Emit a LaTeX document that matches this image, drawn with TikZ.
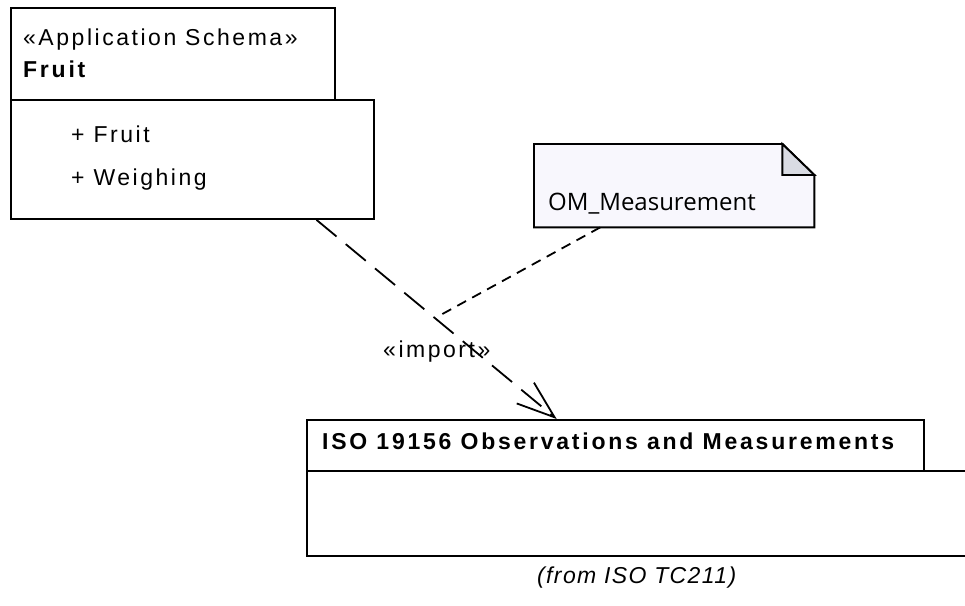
\documentclass[tikz,border=0pt]{standalone}
\usepackage{fontspec}
\setmainfont{Liberation Sans}
\newfontfamily\umlfont[LetterSpace=11]{Liberation Sans}
\newfontfamily\umlboldfont[LetterSpace=12]{Liberation Sans Bold}
\newfontfamily\fromfont[LetterSpace=6]{Liberation Sans}
\newfontfamily\notefont{Open Sans}
\usetikzlibrary{arrows.meta,calc}
\definecolor{umlline}{HTML}{000000}
\definecolor{notefill}{HTML}{F8F7FD}
\definecolor{foldfill}{HTML}{D9DBE3}
\tikzset{
  pkgbox/.style={draw=umlline, line width=1.9pt, fill=white, anchor=north west, inner sep=0pt},
  umltext/.style={anchor=base west, inner sep=0pt, font=\umlfont\fontsize{23}{27}\selectfont},
  umlbold/.style={umltext, font=\umlboldfont\fontsize{23}{27}\selectfont},
  notetext/.style={anchor=base west, inner sep=0pt, font=\notefont\fontsize{24}{28}\selectfont},
  importline/.style={draw=umlline, line width=1.8pt, dash pattern=on 26pt off 12pt, -{Straight Barb[length=38pt,width=27pt]}},
  noteline/.style={draw=umlline, line width=1.8pt, dash pattern=on 10pt off 7pt}
}

\begin{document}
\begin{tikzpicture}[x=1pt, y=-1pt]
  \useasboundingbox[fill=white] (0,0) rectangle (965,605);
  \clip (0,0) rectangle (965,605);

  % package Fruit
  \node[pkgbox, minimum width=363pt, minimum height=119pt] (fruitbody) at (10,99) {};
  \node[pkgbox, minimum width=324pt, minimum height=92pt] (fruittab) at (10,7) {};
  \node[umltext] (fruitstereo) at (23,45) {«Application Schema»};
  \node[umlbold] (fruitname) at (23,77) {Fruit};
  \node[umltext] (fruitclass) at (71,142) {+ Fruit};
  \node[umltext] (weighclass) at (71,185) {+ Weighing};

  % package ISO 19156
  \node[pkgbox, minimum width=680pt, minimum height=85pt] (isobody) at (306,470) {};
  \node[pkgbox, minimum width=617pt, minimum height=51pt] (isotab) at (306,419) {};
  \node[umlbold] (isoname) at (322,449) {ISO 19156 Observations and Measurements};
  \node[umltext, font=\fromfont\itshape\fontsize{23}{27}\selectfont] (isofrom) at (537,583)
    {(from ISO TC211)};

  % note
  \node[anchor=north west, inner sep=0pt, minimum width=280pt, minimum height=83pt] (note) at (534,144) {};
  \filldraw[fill=notefill, draw=umlline, line width=1.9pt]
    (note.north west) -- ($(note.north east)+(-32,0)$) -- ($(note.north east)+(0,31)$)
    -- (note.south east) -- (note.south west) -- cycle;
  \filldraw[fill=foldfill, draw=umlline, line width=1.9pt]
    ($(note.north east)+(-32,0)$) -- ($(note.north east)+(0,31)$) -- ($(note.north east)+(-32,31)$) -- cycle;
  \node[notetext] (notelabel) at (548,210) {OM\_Measurement};

  % import dependency
  \coordinate (importstart) at ($(fruitbody.south west)!0.84!(fruitbody.south east)$);
  \coordinate (importend) at ($(isotab.north west)!0.405!(isotab.north east)$);
  \coordinate (importmid) at ($(importstart)!0.5!(importend)+(5,-5)$);
  \draw[importline] (importstart) -- (importend);
  \node[umltext] (importlabel) at (383,357) {«import»};

  \draw[noteline] ($(note.south west)!0.236!(note.south east)$) -- (importmid);
\end{tikzpicture}
\end{document}
